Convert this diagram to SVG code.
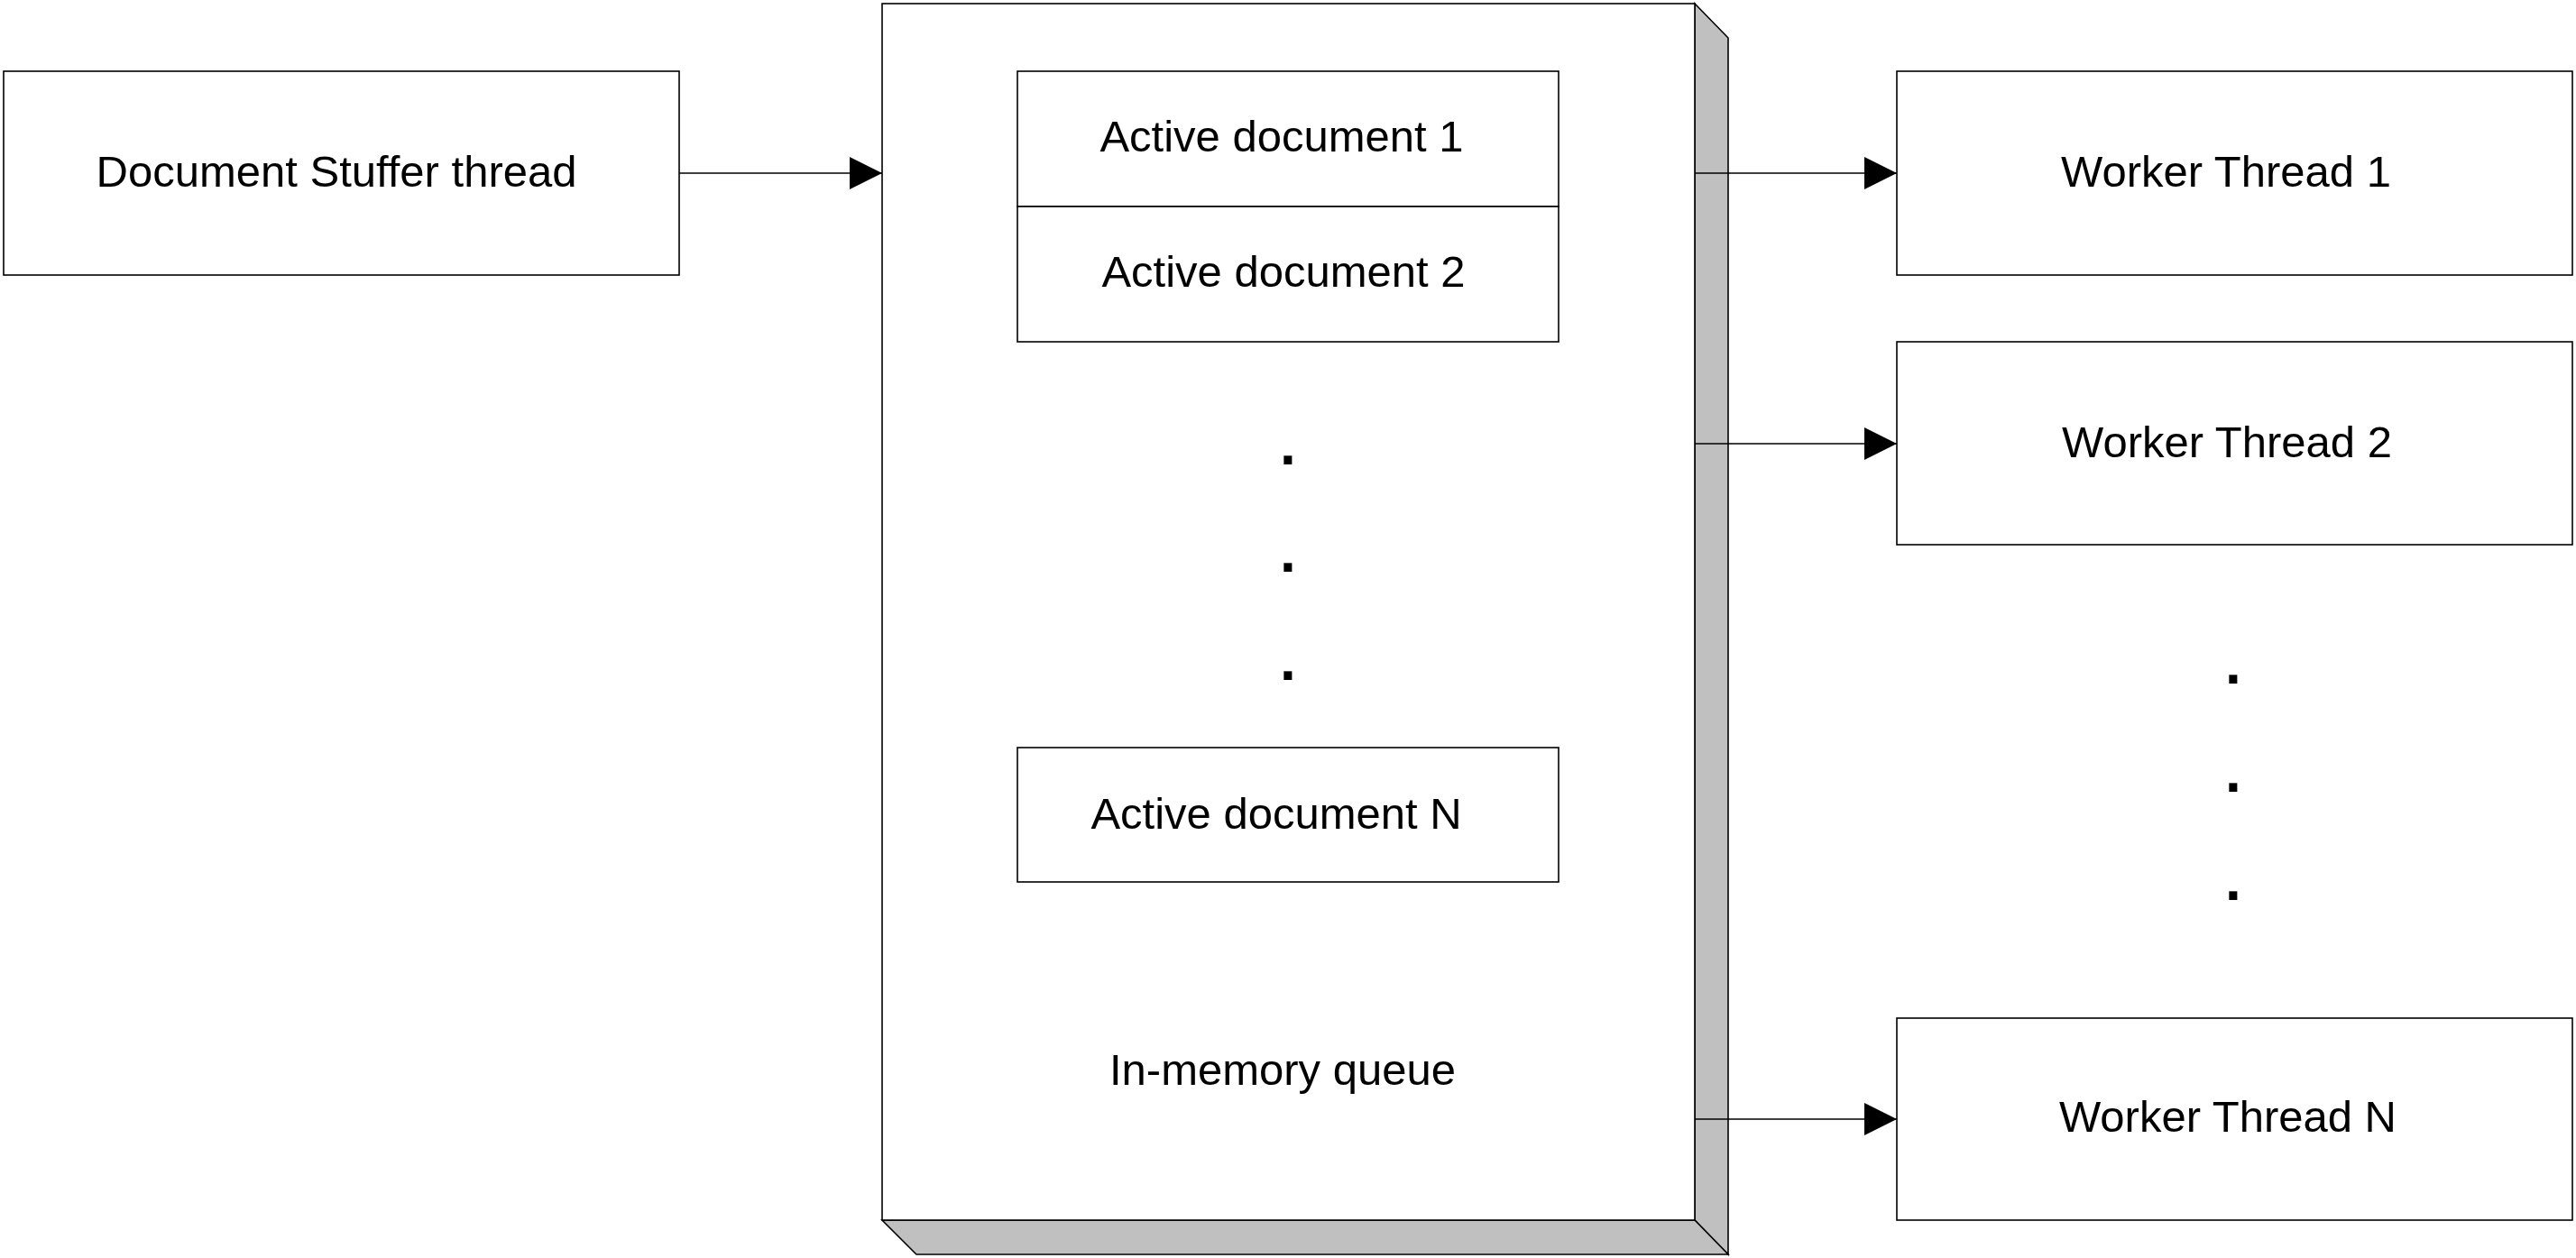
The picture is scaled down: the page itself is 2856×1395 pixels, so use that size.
<svg xmlns="http://www.w3.org/2000/svg" width="2856" height="1395" viewBox="0 0 2856 1395">
<style>
.box{fill:#ffffff;stroke:#000000;stroke-width:1.6}
.shade{fill:#c0c0c0;stroke:#000000;stroke-width:1.6;stroke-linejoin:miter}
.lbl{font-family:"Liberation Sans",Arial,sans-serif;font-size:49px;fill:#000000;text-anchor:middle}
.dot{font-family:"Liberation Sans",Arial,sans-serif;font-size:64px;font-weight:bold;fill:#000000;text-anchor:middle}
.conn{stroke:#000000;stroke-width:1.6;fill:none}
</style>
<defs>
<marker id="arrow" markerUnits="userSpaceOnUse" markerWidth="36" markerHeight="36" viewBox="0 0 34 34" refX="34" refY="17" orient="auto">
<path d="M0,0 L34,17 L0,34 Z" fill="#000000"/>
</marker>
</defs>
<rect width="2856" height="1395" fill="#ffffff"/>
<g id="stuffer">
<rect class="box" x="4" y="79" width="749" height="226"/>
<text class="lbl" x="373" y="207">Document Stuffer thread</text>
</g>
<g id="queue">
<polygon class="shade" points="1879,4 1916,42 1916,1391 1879,1353"/>
<polygon class="shade" points="978,1353 1879,1353 1916,1391 1016,1391"/>
<rect class="box" x="978" y="4" width="901" height="1349"/>
<text class="lbl" x="1422" y="1203">In-memory queue</text>
</g>
<g id="doc1">
<rect class="box" x="1128" y="79" width="600" height="150"/>
<text class="lbl" x="1421" y="168">Active document 1</text>
</g>
<g id="doc2">
<rect class="box" x="1128" y="229" width="600" height="150"/>
<text class="lbl" x="1423" y="318">Active document 2</text>
</g>
<g id="queue-dots">
<text class="dot" x="1428" y="515">.</text>
<text class="dot" x="1428" y="634">.</text>
<text class="dot" x="1428" y="754">.</text>
</g>
<g id="docN">
<rect class="box" x="1128" y="829" width="600" height="149"/>
<text class="lbl" x="1415" y="919">Active document N</text>
</g>
<g id="worker1">
<rect class="box" x="2103" y="79" width="749" height="226"/>
<text class="lbl" x="2468" y="207">Worker Thread 1</text>
</g>
<g id="worker2">
<rect class="box" x="2103" y="379" width="749" height="225"/>
<text class="lbl" x="2469" y="507">Worker Thread 2</text>
</g>
<g id="worker-dots">
<text class="dot" x="2476" y="758">.</text>
<text class="dot" x="2476" y="878">.</text>
<text class="dot" x="2476" y="998">.</text>
</g>
<g id="workerN">
<rect class="box" x="2103" y="1129" width="749" height="224"/>
<text class="lbl" x="2470" y="1255">Worker Thread N</text>
</g>
<g id="connectors">
<line class="conn" x1="753" y1="192" x2="978" y2="192" marker-end="url(#arrow)"/>
<line class="conn" x1="1879" y1="192" x2="2103" y2="192" marker-end="url(#arrow)"/>
<line class="conn" x1="1879" y1="492" x2="2103" y2="492" marker-end="url(#arrow)"/>
<line class="conn" x1="1879" y1="1241" x2="2103" y2="1241" marker-end="url(#arrow)"/>
</g>
</svg>
